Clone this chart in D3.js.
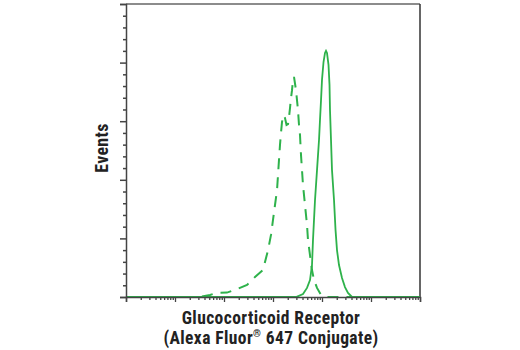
<!DOCTYPE html>
<html><head><meta charset="utf-8">
<script src="https://cdn.jsdelivr.net/npm/d3@7"></script>
<style>
body{margin:0;background:#fff;}
svg{display:block;}
.lbl{font-family:"Liberation Sans Narrow","Arial Narrow","Roboto Condensed",sans-serif;font-weight:bold;fill:#222;}
</style></head>
<body>
<svg id="c" width="520" height="350"></svg>
<script>
// Fluorescence intensity (log axis, arbitrary units) and event counts (% of max scale)
const controlIntensity = [1,32.4,51.8,71.9,115,184,295,429,625,791,910,1000,1099,1208,1265,1325,1389,1455,1526,1637,1758,1887,2024,2122,2224,2330,2443,2560,2683,2946,3236,3394,3557,3727,3908,4095,4498,4945,5176,5690,6250,6870,7910,9550,11510,1000000];
const controlEvents    = [0,0,0.7,1.4,1.5,2.7,4.1,6.8,9.2,16.0,21.2,26.3,31.4,36.5,41.6,46.8,51.9,56.0,59.7,62.1,61.1,58.7,59.0,61.4,64.5,67.9,70.6,74.1,75.1,70.6,63.8,58.7,55.3,48.5,43.3,38.2,31.4,24.6,19.5,14.3,9.2,5.8,3.1,0.7,0,0];
const gcrIntensity = [1,2946,4095,4945,5690,6250,6550,7200,7910,8690,9100,9550,10000,10740,11510,12070,12650,13580,14230,14560,15270,16000,17580,18880,20230,22230,25600,29450,33950,40950,1000000];
const gcrEvents    = [0,0,1.0,3.1,5.8,10.9,19.5,33.1,43.3,53.6,60.4,67.2,74.1,80.2,83.3,84.0,83.3,79.2,72.4,63.8,53.6,43.3,33.1,22.9,16.0,10.9,6.5,3.4,1.4,0,0];
const xDomain = [1, 1e6];
const yDomain = [0, 100];
const yMajorTicks = [0,20,40,60,80,100];
const xLabelLines = ["Glucocorticoid Receptor", "(Alexa Fluor", "\u00AE", " 647 Conjugate)"];
const yLabel = "Events";

const m = {l:126, r:420, t:4, b:297};
const svg = d3.select("#c");
const x = d3.scaleLog().domain(xDomain).range([m.l, m.r]);
const y = d3.scaleLinear().domain(yDomain).range([m.b, m.t]);
const green = "#2eb24b";
const axisCol = "#444";

// frame top/right
svg.append("line").attr("x1",m.l).attr("x2",m.r).attr("y1",m.t).attr("y2",m.t).attr("stroke","#666").attr("stroke-width",1.5);
svg.append("line").attr("x1",m.r).attr("x2",m.r).attr("y1",m.t).attr("y2",m.b).attr("stroke","#333").attr("stroke-width",1.5);

// curves
const line = d3.line().x(d=>x(d[0])).y(d=>y(d[1]));
const ctrl = controlIntensity.map((v,i)=>[v,controlEvents[i]]);
const gcr = gcrIntensity.map((v,i)=>[v,gcrEvents[i]]);
svg.append("path").datum(ctrl).attr("d",line).attr("fill","none").attr("stroke",green)
  .attr("stroke-width",2).attr("stroke-dasharray","11,8");
svg.append("path").datum(gcr).attr("d",line).attr("fill","none").attr("stroke",green)
  .attr("stroke-width",1.8);

// y axis: major + minor ticks
const yMinor = d3.range(0,100.001,4).filter(v=>!yMajorTicks.includes(v));
const gy = svg.append("g").attr("transform",`translate(${m.l},0)`);
gy.call(d3.axisLeft(y).tickValues(yMajorTicks).tickSize(6).tickFormat(""));
gy.append("g").call(d3.axisLeft(y).tickValues(yMinor).tickSize(3).tickFormat("")).select(".domain").remove();
gy.selectAll("line").attr("stroke",axisCol).attr("stroke-width",1.5);
gy.selectAll(".domain").attr("stroke",axisCol).attr("stroke-width",1.5);

// x axis: log decades + minor ticks
const xMajor = d3.range(0,7).map(e=>Math.pow(10,e));
const xMinor = [];
for (let e=0;e<6;e++) for (let k=2;k<10;k++) xMinor.push(k*Math.pow(10,e));
const gx = svg.append("g").attr("transform",`translate(0,${m.b})`);
gx.call(d3.axisBottom(x).tickValues(xMajor).tickSize(5).tickFormat(""));
gx.append("g").call(d3.axisBottom(x).tickValues(xMinor).tickSize(3).tickFormat("")).select(".domain").remove();
gx.selectAll("line").attr("stroke",axisCol).attr("stroke-width",1.3);
gx.selectAll(".domain").attr("stroke",axisCol).attr("stroke-width",1.5);

// x label: two lines
const cx = 271;
svg.append("text").attr("class","lbl").attr("text-anchor","middle").style("font-size","17.5px")
  .style("letter-spacing","0.4px").attr("x",cx).attr("y",323.5).text(xLabelLines[0]);
const t = svg.append("text").attr("class","lbl").attr("text-anchor","middle").style("font-size","17.5px")
  .style("letter-spacing","0.4px").attr("x",cx).attr("y",343.5);
t.append("tspan").text(xLabelLines[1]);
t.append("tspan").attr("dy",-7).style("font-size","10px").text(xLabelLines[2]);
t.append("tspan").attr("dy",7).text(xLabelLines[3]);
svg.append("text").attr("class","lbl").attr("transform","translate(108,148) rotate(-90)").attr("text-anchor","middle")
  .style("font-size","18px").style("letter-spacing","0.3px").text(yLabel);
</script>
</body></html>
